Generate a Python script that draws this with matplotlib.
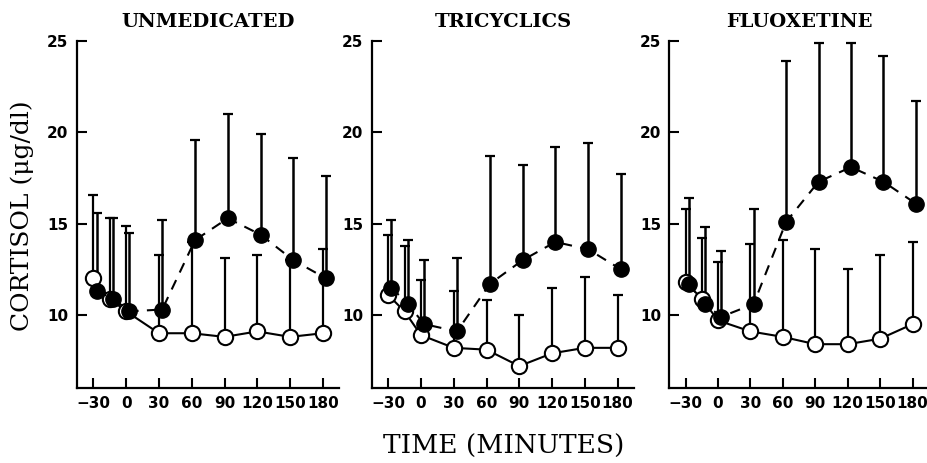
import matplotlib
matplotlib.use("Agg")
import matplotlib.pyplot as plt
import numpy as np

# --- Data (cortisol, ug/dl) ---
times = [-30, -15, 0, 30, 60, 90, 120, 150, 180]
xticks = [-30, 0, 30, 60, 90, 120, 150, 180]
yticks = [10, 15, 20, 25]
titles = ["UNMEDICATED", "TRICYCLICS", "FLUOXETINE"]

unmed_open = [12.0, 10.9, 10.2, 9.0, 9.0, 8.8, 9.1, 8.8, 9.0]
unmed_open_top = [16.6, 15.3, 14.9, 13.3, 14.0, 13.1, 13.3, 13.0, 13.6]
unmed_filled = [11.3, 10.9, 10.2, 10.3, 14.1, 15.3, 14.4, 13.0, 12.0]
unmed_filled_top = [15.6, 15.3, 14.5, 15.2, 19.6, 21.0, 19.9, 18.6, 17.6]

tri_open = [11.1, 10.2, 8.9, 8.2, 8.1, 7.2, 7.9, 8.2, 8.2]
tri_open_top = [14.4, 13.8, 11.9, 11.3, 10.8, 10.0, 11.5, 12.1, 11.1]
tri_filled = [11.5, 10.6, 9.5, 9.1, 11.7, 13.0, 14.0, 13.6, 12.5]
tri_filled_top = [15.2, 14.1, 13.0, 13.1, 18.7, 18.2, 19.2, 19.4, 17.7]

flx_open = [11.8, 10.9, 9.7, 9.1, 8.8, 8.4, 8.4, 8.7, 9.5]
flx_open_top = [15.8, 14.2, 12.9, 13.9, 14.1, 13.6, 12.5, 13.3, 14.0]
flx_filled = [11.7, 10.6, 9.9, 10.6, 15.1, 17.3, 18.1, 17.3, 16.1]
flx_filled_top = [16.4, 14.8, 13.5, 15.8, 23.9, 24.9, 24.9, 24.2, 21.7]

panels = [
    (unmed_open, unmed_open_top, unmed_filled, unmed_filled_top),
    (tri_open, tri_open_top, tri_filled, tri_filled_top),
    (flx_open, flx_open_top, flx_filled, flx_filled_top),
]

tick_font = {"family": ["DejaVu Sans"], "weight": "bold", "size": 11}
serif = ["DejaVu Serif"]

fig = plt.figure(figsize=(9.27, 4.63), dpi=100)
lefts = [0.083, 0.401, 0.722]
widths = [0.283, 0.283, 0.280]
filled_shift = 3  # filled symbols drawn slightly right of the open ones

x = np.array(times, dtype=float)
for i, (left, width) in enumerate(zip(lefts, widths)):
    ax = fig.add_axes([left, 0.162, width, 0.749])
    o, o_top, f, f_top = [np.array(v) for v in panels[i]]
    xf = x + filled_shift

    # upward-only error bars
    ax.errorbar(x, o, yerr=[np.zeros_like(o), o_top - o], fmt="none",
                ecolor="black", elinewidth=1.6, capsize=3.5, capthick=1.6, zorder=2)
    ax.errorbar(xf, f, yerr=[np.zeros_like(f), f_top - f], fmt="none",
                ecolor="black", elinewidth=1.8, capsize=3.5, capthick=1.6, zorder=2)

    ax.plot(x, o, "-", color="black", lw=1.5, marker="o", ms=11,
            mfc="white", mec="black", mew=1.5, zorder=3)
    ax.plot(xf, f, color="black", lw=1.5, dashes=(5, 4), zorder=3)
    ax.plot(xf, f, "o", ms=11, mfc="black", mec="black", zorder=4)

    ax.set_xlim(-45, 195)
    ax.set_ylim(6, 25)
    ax.set_xticks(xticks)
    ax.set_yticks(yticks)
    ax.set_xticklabels([str(t).replace("-", "\u2212") for t in xticks], fontdict=tick_font)
    ax.set_yticklabels([str(t) for t in yticks], fontdict=tick_font)
    ax.tick_params(direction="in", length=7, width=1.5, pad=6)
    for side in ["top", "right"]:
        ax.spines[side].set_visible(False)
    for side in ["left", "bottom"]:
        ax.spines[side].set_linewidth(1.6)

    ax.set_title(titles[i], family=serif, fontsize=14, fontweight="bold", pad=10)

fig.text(0.024, 0.535, "CORTISOL (\u03bcg/dl)", rotation=90, ha="center", va="center",
         family=serif, fontsize=18)
fig.text(0.543, 0.035, "TIME (MINUTES)", ha="center", va="center",
         family=serif, fontsize=19)

fig.savefig("out.png", dpi=100)
